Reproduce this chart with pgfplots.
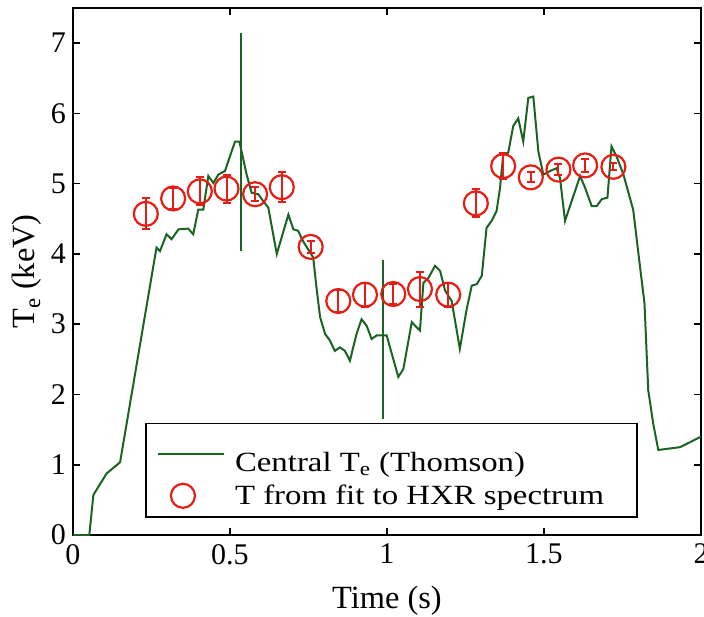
\documentclass[border=0pt]{standalone}
\usepackage{pgfplots}
\pgfplotsset{compat=1.18}
\usepackage{pgfplotstable}
\usepackage{fontspec}
\setmainfont{Liberation Serif}
\newfontfamily\legfont{Liberation Serif}[FakeStretch=1.18]
\definecolor{tgreen}{RGB}{25,100,35}
\definecolor{tred}{RGB}{228,30,20}

\pgfplotstableread{
t v
0.000 0.00
0.052 0.00
0.065 0.57
0.107 0.875
0.150 1.035
0.266 4.09
0.277 4.04
0.298 4.28
0.314 4.21
0.336 4.35
0.367 4.36
0.383 4.28
0.399 4.63
0.415 4.63
0.431 5.11
0.447 5.01
0.463 5.13
0.484 5.18
0.516 5.60
0.530 5.60
0.553 5.13
0.569 4.87
0.590 4.85
0.606 4.75
0.622 4.66
0.649 4.00
0.686 4.56
0.702 4.35
0.717 4.33
0.733 4.18
0.765 3.95
0.776 3.50
0.787 3.10
0.803 2.86
0.818 2.77
0.834 2.62
0.850 2.67
0.866 2.62
0.882 2.48
0.903 2.86
0.919 3.07
0.935 2.98
0.951 2.79
0.967 2.84
0.999 2.84
1.036 2.25
1.052 2.36
1.079 3.03
1.089 2.98
1.105 2.91
1.116 3.59
1.132 3.66
1.153 3.83
1.169 3.76
1.185 3.48
1.206 3.33
1.232 2.65
1.254 3.22
1.270 3.55
1.286 3.57
1.302 3.69
1.317 4.37
1.333 4.47
1.349 4.61
1.360 4.94
1.370 5.41
1.386 5.44
1.402 5.82
1.418 5.93
1.434 5.60
1.450 6.22
1.466 6.24
1.482 5.46
1.498 5.13
1.519 5.18
1.540 5.22
1.551 5.08
1.567 4.47
1.588 4.75
1.615 5.11
1.631 4.94
1.652 4.68
1.668 4.68
1.684 4.78
1.702 4.80
1.715 5.53
1.731 5.39
1.753 5.13
1.784 4.63
1.806 3.81
1.820 3.30
1.832 2.06
1.848 1.58
1.864 1.21
1.933 1.25
1.965 1.32
2.000 1.40
}\thomson

\pgfplotstableread{
t v e
0.232 4.57 0.22
0.319 4.79 0.15
0.404 4.89 0.20
0.489 4.93 0.20
0.580 4.85 0.10
0.665 4.95 0.21
0.757 4.10 0.08
0.845 3.33 0.15
0.930 3.42 0.17
1.020 3.43 0.14
1.105 3.50 0.25
1.195 3.42 0.17
1.283 4.72 0.20
1.370 5.25 0.18
1.458 5.09 0.07
1.546 5.20 0.08
1.631 5.26 0.09
1.721 5.24 0.05
}\hxr

\begin{document}
\begin{tikzpicture}
\begin{axis}[
  scale only axis,
  width=314pt, height=263.5pt,
  xmin=0, xmax=2, ymin=0, ymax=7.5,
  xtick={0,0.5,1,1.5,2},
  ytick={0,1,2,3,4,5,6,7},
  tick align=inside,
  major tick length=3.5pt,
  axis line style={line width=0.9pt},
  tick style={line width=0.8pt, black},
  /pgf/number format/assume math mode=true,
  ticklabel style={font=\fontsize{15}{18}\selectfont},
  xticklabel style={yshift=-1pt},
  xlabel={Time (s)},
  ylabel={T\textsubscript{e} (keV)},
  label style={font=\fontsize{16.2}{19}\selectfont},
  xlabel style={at={(axis description cs:0.5,-0.125)}, anchor=center},
  ylabel style={at={(axis description cs:-0.073,0.5)}, anchor=center},
  legend style={at={(axis description cs:0.1146,0.0323)}, anchor=south west,
    font=\legfont\fontsize{13.9}{16}\selectfont, draw=black, line width=0.9pt,
    inner xsep=4pt, inner ysep=3pt, row sep=1pt},
  legend cell align=left,
]
\addplot[tgreen, line width=1pt,
  legend image code/.code={\draw[tgreen, line width=1pt] (1.5pt,0pt) -- (34.5pt,0pt); \path (0pt,0pt) (37.5pt,0pt);}]
  table[x=t,y=v] {\thomson};
\addlegendentry{\rule{0pt}{19pt}Central T\textsubscript{e} (Thomson)}
\addplot[tred, only marks, mark=o, mark size=6pt, line width=1.1pt,
  error bars/.cd, y dir=both, y explicit,
  error bar style={line width=1pt, tred},
  error mark options={rotate=90, mark size=2pt, line width=1pt, tred},
  /pgfplots/legend image code/.code={\draw[tred, line width=1.1pt] (14pt,0pt) circle (6pt); \path (0pt,0pt) (37.5pt,0pt);}]
  table[x=t,y=v,y error=e] {\hxr};
\addlegendentry{T from fit to HXR spectrum\hspace*{10.5pt}}
\addplot[tgreen, line width=1pt, forget plot] coordinates {(0.535,4.04) (0.535,7.15)};
\addplot[tgreen, line width=1pt, forget plot] coordinates {(0.988,1.65) (0.988,3.92)};
\coordinate (bbsw) at (axis description cs:-0.1162,-0.1537);
\coordinate (bbne) at (axis description cs:1.00478,1.01518);
\end{axis}
\pgfresetboundingbox
\useasboundingbox (bbsw) rectangle (bbne);
\end{tikzpicture}
\end{document}
